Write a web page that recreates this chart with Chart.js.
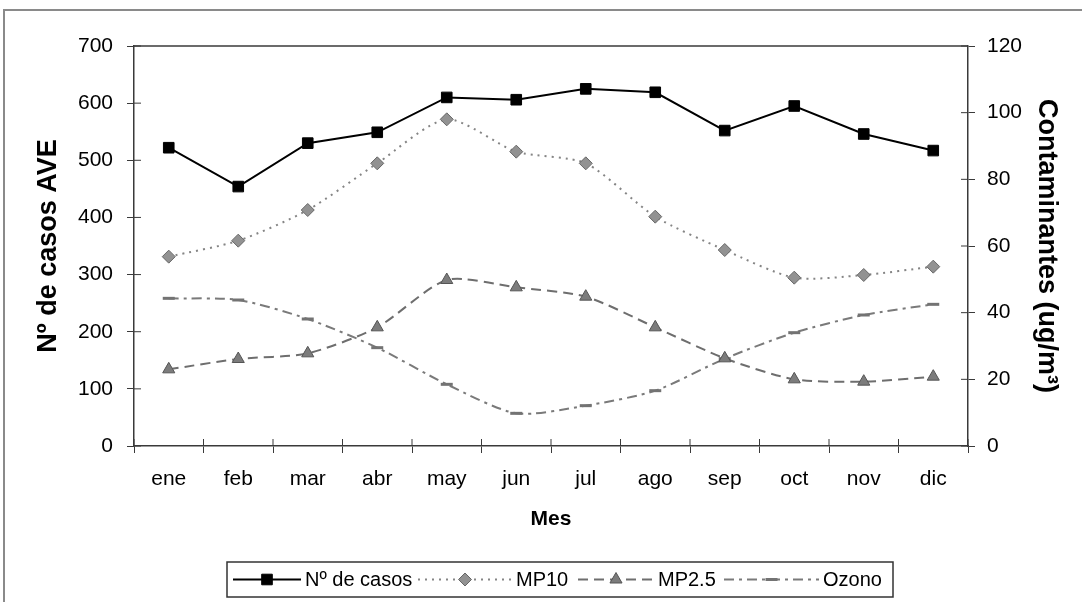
<!DOCTYPE html>
<html>
<head>
<meta charset="utf-8">
<script src="https://cdn.jsdelivr.net/npm/chart.js@4/dist/chart.umd.min.js"></script>
<style>
  html, body { margin: 0; padding: 0; background: #fff; }
  #wrap { width: 1091px; height: 602px; position: relative; }
</style>
</head>
<body>
<div id="wrap"><canvas id="c" width="1091" height="602"></canvas></div>
<script>
// Monthly AVE case counts and pollutant concentrations
const meses = ['ene', 'feb', 'mar', 'abr', 'may', 'jun', 'jul', 'ago', 'sep', 'oct', 'nov', 'dic'];
const casos = [522, 454, 530, 549, 610, 606, 625, 619, 552, 595, 546, 517];
const mp10 = [56.8, 61.6, 70.8, 84.8, 98.0, 88.3, 84.8, 68.8, 58.8, 50.5, 51.3, 53.8];
const mp25 = [23.0, 26.1, 27.8, 35.6, 49.8, 47.6, 44.8, 35.6, 26.3, 20.0, 19.3, 20.8];
const ozono = [44.3, 43.8, 38.1, 29.5, 18.5, 9.8, 12.1, 16.6, 26.2, 34.0, 39.3, 42.5];

const ticksCasos = [0, 100, 200, 300, 400, 500, 600, 700];
const ticksContaminantes = [0, 20, 40, 60, 80, 100, 120];

const FONT = "'Liberation Sans', Arial, sans-serif";
const AXIS = '#3a3a3a';

// Outer frame, top border of the plot and tick marks that cross each axis
const framePlugin = {
  id: 'frame',
  beforeDraw(chart) {
    const ctx = chart.ctx;
    ctx.save();
    ctx.strokeStyle = '#8a8a8a';
    ctx.lineWidth = 2;
    ctx.beginPath();
    ctx.moveTo(4, 602);
    ctx.lineTo(4, 10);
    ctx.lineTo(1082, 10);
    ctx.stroke();
    ctx.restore();
  },
  afterDraw(chart) {
    const ctx = chart.ctx;
    const a = chart.chartArea;
    ctx.save();
    ctx.strokeStyle = AXIS;
    ctx.lineWidth = 1.5;
    ctx.beginPath();
    ctx.moveTo(a.left, a.top);
    ctx.lineTo(a.right, a.top);
    ctx.stroke();
    ctx.lineWidth = 1;
    ctx.beginPath();
    const y = chart.scales.y, y1 = chart.scales.y1, x = chart.scales.x;
    y.ticks.forEach(t => {
      const py = y.getPixelForValue(t.value);
      ctx.moveTo(a.left, py); ctx.lineTo(a.left + 7, py);
    });
    y1.ticks.forEach(t => {
      const py = y1.getPixelForValue(t.value);
      ctx.moveTo(a.right, py); ctx.lineTo(a.right - 7, py);
    });
    for (let i = 0; i <= meses.length; i++) {
      const px = x.getPixelForValue(i - 0.5);
      ctx.moveTo(px, a.bottom); ctx.lineTo(px, a.bottom - 7);
    }
    ctx.stroke();
    ctx.restore();
  }
};

// Boxed legend with line-and-marker samples; each entry: sample start, sample end, text start
const legendSlots = [[233, 301, 305], [418, 512, 516], [578, 654, 658], [724, 819, 823]];
const legendPlugin = {
  id: 'boxLegend',
  afterDraw(chart) {
    const ctx = chart.ctx;
    const box = { x: 227, y: 562, w: 666, h: 35 };
    const cy = box.y + box.h / 2;
    ctx.save();
    ctx.strokeStyle = '#333';
    ctx.lineWidth = 1.5;
    ctx.strokeRect(box.x, box.y, box.w, box.h);
    ctx.font = '20px ' + FONT;
    ctx.textBaseline = 'middle';
    ctx.fillStyle = '#000';
    chart.data.datasets.forEach((ds, i) => {
      const [s0, s1, tx] = legendSlots[i];
      ctx.save();
      ctx.strokeStyle = ds.borderColor;
      ctx.lineWidth = ds.borderWidth;
      ctx.setLineDash(ds.borderDash || []);
      ctx.beginPath();
      ctx.moveTo(s0, cy);
      ctx.lineTo(s1, cy);
      ctx.stroke();
      ctx.setLineDash([]);
      ctx.fillStyle = ds.pointBackgroundColor;
      ctx.strokeStyle = ds.pointBorderColor;
      ctx.lineWidth = ds.pointBorderWidth;
      Chart.helpers.drawPoint(ctx, {
        pointStyle: ds.pointStyle, radius: ds.pointRadius, rotation: 0, borderWidth: ds.pointBorderWidth
      }, (s0 + s1) / 2, cy);
      ctx.restore();
      ctx.fillText(ds.label, tx, cy + 1);
    });
    ctx.restore();
  }
};

const tickFont = { family: FONT, size: 21 };
const titleFont = { family: FONT, size: 27, weight: 'bold' };

new Chart(document.getElementById('c'), {
  type: 'line',
  data: {
    labels: meses,
    datasets: [
      {
        label: 'Nº de casos', data: casos, yAxisID: 'y',
        borderColor: '#000', borderWidth: 2, tension: 0,
        pointStyle: 'rect', pointRadius: 7.5, pointBackgroundColor: '#000',
        pointBorderColor: '#000', pointBorderWidth: 1
      },
      {
        label: 'MP10', data: mp10, yAxisID: 'y1',
        borderColor: '#858585', borderWidth: 2, borderDash: [2, 5], tension: 0.25,
        pointStyle: 'rectRot', pointRadius: 6.5, pointBackgroundColor: '#929292',
        pointBorderColor: '#666', pointBorderWidth: 1
      },
      {
        label: 'MP2.5', data: mp25, yAxisID: 'y1',
        borderColor: '#6e6e6e', borderWidth: 2, borderDash: [10, 6], tension: 0.25,
        pointStyle: 'triangle', pointRadius: 7, pointBackgroundColor: '#7c7c7c',
        pointBorderColor: '#555', pointBorderWidth: 1
      },
      {
        label: 'Ozono', data: ozono, yAxisID: 'y1',
        borderColor: '#7a7a7a', borderWidth: 2, borderDash: [10, 5, 3, 5], tension: 0.25,
        pointStyle: 'line', pointRadius: 6, pointBackgroundColor: '#777',
        pointBorderColor: '#737373', pointBorderWidth: 3
      }
    ]
  },
  options: {
    responsive: false,
    animation: false,
    devicePixelRatio: 1,
    layout: { padding: { top: 46, left: 0, right: 0, bottom: 0 } },
    plugins: { legend: { display: false }, tooltip: { enabled: false } },
    scales: {
      x: {
        offset: true,
        grid: { offset: true, drawOnChartArea: false, tickLength: 7, color: AXIS, lineWidth: 1 },
        border: { display: true, color: AXIS, width: 1.5 },
        ticks: { font: tickFont, color: '#000', padding: 14, maxRotation: 0, autoSkip: false },
        title: { display: true, text: 'Mes', color: '#000',
          font: { family: FONT, size: 21, weight: 'bold' }, padding: { top: 0, bottom: 70 } },
        afterFit(s) { s.height = 156; }
      },
      y: {
        position: 'left', min: 0, max: 700,
        afterBuildTicks(s) { s.ticks = ticksCasos.map(v => ({ value: v })); },
        grid: { drawOnChartArea: false, tickLength: 7, color: AXIS, lineWidth: 1 },
        border: { display: true, color: AXIS, width: 1.5 },
        ticks: { font: tickFont, color: '#000', padding: 14 },
        title: { display: true, text: 'Nº de casos AVE', color: '#000', font: titleFont,
          padding: { top: 32, bottom: 0 } },
        afterFit(s) { s.width = 134; }
      },
      y1: {
        position: 'right', min: 0, max: 120,
        afterBuildTicks(s) { s.ticks = ticksContaminantes.map(v => ({ value: v })); },
        grid: { drawOnChartArea: false, tickLength: 7, color: AXIS, lineWidth: 1 },
        border: { display: true, color: AXIS, width: 1.5 },
        ticks: { font: tickFont, color: '#000', padding: 12 },
        title: { display: true, text: 'Contaminantes (ug/m³)', color: '#000', font: titleFont,
          padding: { top: 28, bottom: 0 } },
        afterFit(s) { s.width = 123; }
      }
    }
  },
  plugins: [framePlugin, legendPlugin]
});
</script>
</body>
</html>
